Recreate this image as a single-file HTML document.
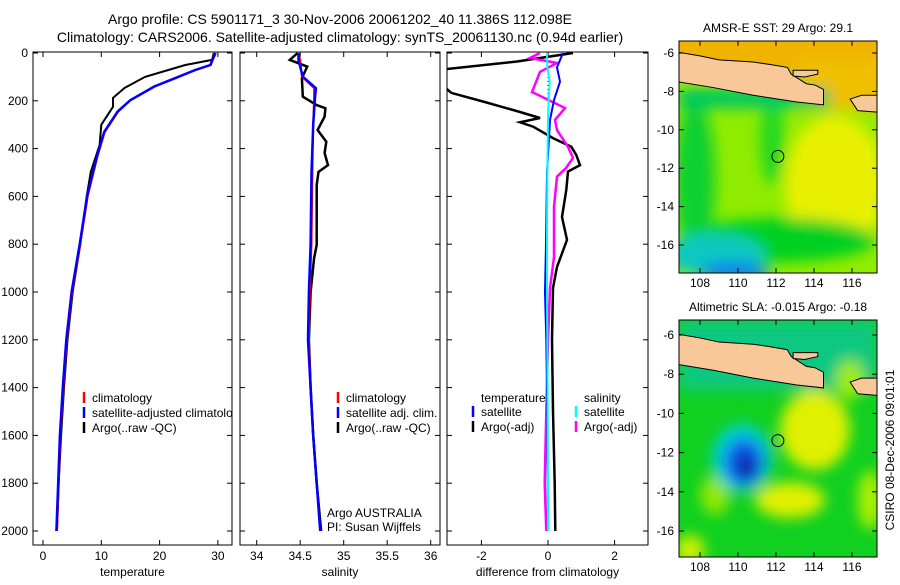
<!DOCTYPE html>
<html><head><meta charset="utf-8">
<style>
body{margin:0;background:#fff;}
svg text{font-family:"Liberation Sans",sans-serif;font-size:12px;fill:#000;}
</style></head>
<body>
<svg id="fig" width="900" height="580" xmlns="http://www.w3.org/2000/svg">
<defs>
<filter id="blur" x="-20%" y="-20%" width="140%" height="140%"><feGaussianBlur stdDeviation="7"/></filter>
<clipPath id="c1"><rect x="33" y="52" width="199" height="493"/></clipPath>
<clipPath id="c2"><rect x="240" y="52" width="200" height="493"/></clipPath>
<clipPath id="c3"><rect x="447" y="52" width="201" height="493"/></clipPath>
<clipPath id="m1"><rect x="679" y="41" width="198" height="232"/></clipPath>
<clipPath id="m2"><rect x="679" y="320" width="198" height="237"/></clipPath>
</defs>
<text x="340" y="24" text-anchor="middle" style="font-size:14px">Argo profile: CS 5901171_3 30-Nov-2006 20061202_40 11.386S 112.098E</text>
<text x="340" y="42" text-anchor="middle" style="font-size:14px">Climatology: CARS2006. Satellite-adjusted climatology: synTS_20061130.nc (0.94d earlier)</text>

<g id="panels"></g>

<!-- SST map -->
<g clip-path="url(#m1)">
<rect x="679" y="41" width="198" height="232" fill="#90ec00"/>
<g filter="url(#blur)">
<rect x="640" y="20" width="260" height="55" fill="#f0b400"/>
<rect x="800" y="60" width="90" height="50" fill="#f0c000"/>
<ellipse cx="835" cy="185" rx="50" ry="70" fill="#e8f000"/>
<ellipse cx="695" cy="180" rx="20" ry="80" fill="#10d030"/>
<ellipse cx="772" cy="140" rx="12" ry="45" fill="#20d820"/>
<ellipse cx="780" cy="240" rx="95" ry="22" fill="#00d020"/>
<ellipse cx="715" cy="255" rx="50" ry="22" fill="#10c8c0"/>
<ellipse cx="735" cy="272" rx="35" ry="10" fill="#1080f0"/>
<rect x="679" y="88" width="150" height="20" fill="#00c860"/>
</g>
</g>
<!-- SLA map -->
<g clip-path="url(#m2)">
<rect x="679" y="320" width="198" height="237" fill="#10d020"/>
<g filter="url(#blur)">
<rect x="679" y="320" width="198" height="70" fill="#10c880"/>
<ellipse cx="815" cy="430" rx="35" ry="40" fill="#e0f000"/>
<ellipse cx="790" cy="500" rx="35" ry="18" fill="#e0f000"/>
<ellipse cx="715" cy="495" rx="15" ry="20" fill="#90e800"/>
<ellipse cx="690" cy="550" rx="15" ry="15" fill="#d0f000"/>
<ellipse cx="870" cy="500" rx="12" ry="30" fill="#b0f000"/>
<ellipse cx="850" cy="380" rx="14" ry="20" fill="#a0ec00"/>
<ellipse cx="742" cy="458" rx="30" ry="34" fill="#00d0d0"/>
<ellipse cx="744" cy="462" rx="20" ry="24" fill="#1060f0"/>
<ellipse cx="746" cy="466" rx="10" ry="13" fill="#0828a0"/>
</g>
</g>
<g id="maps-fg"></g>
<text transform="translate(894,450) rotate(-90)" text-anchor="middle">CSIRO 08-Dec-2006 09:01:01</text>
</svg>
<script>
// ---- data ----
const tempDepth = [0,29,50,71,100,146,188,225,300,385,497,600,800,1000,1200,1400,1600,1800,2000];
const tempArgo  = [29.3,29,24.4,21.5,17.5,14,12,12,10,9.7,8.2,7.5,6.4,5.1,4.2,3.6,3.1,2.7,2.4];
const tempClimDepth = [0,50,71,106,140,197,245,330,428,595,800,1000,1200,1400,1600,1800,2000];
const tempClim = [29.5,28.8,26.2,22.5,19,15,12.9,10.6,9.4,7.7,6.4,5,4.1,3.5,3,2.7,2.4];
const tempSat  = [29.6,28.7,26.1,22.6,19.1,15,12.8,10.5,9.3,7.6,6.3,4.9,4.0,3.4,2.9,2.6,2.3];
const salDepth = [0,29,57,105,183,218,231,266,322,371,419,469,497,552,803,858,1000,1200,1400,1600,1800,2000];
const salArgo  = [34.47,34.38,34.58,34.52,34.53,34.69,34.79,34.78,34.7,34.8,34.78,34.82,34.71,34.69,34.69,34.66,34.62,34.6,34.62,34.65,34.69,34.74];
const salClimDepth = [0,30,99,147,188,300,500,800,1000,1200,1400,1600,1800,2000];
const salClim = [34.48,34.5,34.52,34.66,34.66,34.65,34.64,34.63,34.61,34.6,34.62,34.65,34.69,34.73];
const salSat  = [34.48,34.48,34.53,34.68,34.67,34.65,34.63,34.62,34.6,34.59,34.62,34.65,34.69,34.73];
const dTDepth = [0,21,35,71,120,167,205,247,272,290,308,356,392,427,469,496,573,686,782,895,983,1200,1500,1800,2000];
const dTArgo  = [0.75,-0.24,-0.9,-3.3,-3.3,-2.9,-1.9,-0.84,-0.24,-0.84,-0.45,0.15,0.7,0.85,0.96,0.6,0.55,0.42,0.57,0.27,0.15,0.12,0.15,0.2,0.22];
const dSDepth = [0,21,42,79,163,230,280,322,393,439,481,517,643,854,983,1200,1500,1800,2000];
const dSArgo  = [-0.24,-0.54,0.27,-0.24,-0.48,0.51,0.21,0.27,0.6,0.75,0.54,0.27,0.18,0.18,0.06,0,-0.05,-0.1,-0.05];
const dSatDepth = [0,60,120,197,280,500,800,1000,1200,1500,2000];
const dTSat = [0.45,0.27,0.36,0.18,0.06,-0.03,-0.06,-0.09,-0.05,-0.02,0];
const dSSat = [-0.03,-0.02,0.05,0.02,0,-0.02,-0.03,-0.03,-0.02,-0.01,0];
const depthTicks = [0,200,400,600,800,1000,1200,1400,1600,1800,2000];
const tempTicks = [0,10,20,30];
const salTicks = [34,34.5,35,35.5,36];
const diffTicks = [-2,0,2];
const latTicks = [-6,-8,-10,-12,-14,-16];
const lonTicks = [108,110,112,114,116];

// ---- scales ----
const yD = d => 53 + d*0.239;
const xT = t => 43 + t*5.83;
const xS = s => 256.7 + (s-34)*87;
const xDf = v => 548 + v*33.3;
const NS='http://www.w3.org/2000/svg';
function mk(tag, attrs, parent){const e=document.createElementNS(NS,tag);for(const k in attrs)e.setAttribute(k,attrs[k]);parent.appendChild(e);return e;}
const G=document.getElementById('panels');
function line(depths, vals, xf, color, w, clip, name, dash){
  const pts=depths.map((d,i)=>xf(vals[i]).toFixed(1)+','+yD(d).toFixed(1)).join(' ');
  const p=mk('polyline',{points:pts,fill:'none',stroke:color,'stroke-width':w,'clip-path':'url(#'+clip+')'},G);
  if(dash)p.setAttribute('stroke-dasharray',dash);
  
  
}
function frame(x,w,xt,xf,xlab,name,showDepth){
  const r=mk('rect',{x:x,y:52,width:w,height:493,fill:'none',stroke:'#000','stroke-width':1},G);
  
  
  depthTicks.forEach(d=>{
    mk('line',{x1:x,x2:x+5,y1:yD(d),y2:yD(d),stroke:'#000'},G);
    mk('line',{x1:x+w-5,x2:x+w,y1:yD(d),y2:yD(d),stroke:'#000'},G);
    if(showDepth){
      const t=mk('text',{x:x-5,y:yD(d)+4,'text-anchor':'end'},G);t.textContent=d;
      
      
    }
  });
  xt.forEach(v=>{
    const X=xf(v);
    mk('line',{x1:X,x2:X,y1:52,y2:57,stroke:'#000'},G);
    mk('line',{x1:X,x2:X,y1:540,y2:545,stroke:'#000'},G);
    const t=mk('text',{x:X,y:560,'text-anchor':'middle'},G);t.textContent=v;
    
    
  });
  const t=mk('text',{x:x+w/2,y:576,'text-anchor':'middle'},G);t.textContent=xlab;
  
  
}
frame(33,199,tempTicks,xT,'temperature','temperature-panel',true);
frame(240,200,salTicks,xS,'salinity','salinity-panel',false);
frame(447,201,diffTicks,xDf,'difference from climatology','difference-panel',false);

line(tempDepth,tempArgo,xT,'#000',2,'c1','temp-argo-line');
line(tempClimDepth,tempClim,xT,'#f00',2,'c1','temp-climatology-line');
line(tempClimDepth,tempSat,xT,'#00f',2.5,'c1','temp-satellite-line');
line(salDepth,salArgo,xS,'#000',2.5,'c2','sal-argo-line');
line(salClimDepth,salClim,xS,'#f00',2,'c2','sal-climatology-line');
line(salClimDepth,salSat,xS,'#00f',2.5,'c2','sal-satellite-line');
line([100,250],[0,0],xDf,'#000',1,'c3','zero-dotted-line','1 3');
line(dTDepth,dTArgo,xDf,'#000',2.5,'c3','diff-temp-argo-line');
line(dSDepth,dSArgo,xDf,'#f0f',2.5,'c3','diff-sal-argo-line');
line(dSatDepth,dTSat,xDf,'#00f',2,'c3','diff-temp-satellite-line');
line(dSatDepth,dSSat,xDf,'#0ff',2,'c3','diff-sal-satellite-line');

function legend(x,y,color,txt,clip,name){
  if(color){const l=mk('line',{x1:x,x2:x,y1:y-10,y2:y+1,stroke:color,'stroke-width':2.5},G);
    
    }
  const t=mk('text',{x:x+(color?8:0),y:y},G);t.textContent=txt;
  if(clip)t.setAttribute('clip-path','url(#'+clip+')');
  
  
}
legend(84,402,'#f00','climatology','c1','legend-climatology');
legend(84,417,'#00f','satellite-adjusted climatology','c1','legend-satellite-adjusted');
legend(84,432,'#000','Argo(..raw -QC)','c1','legend-argo-raw');
legend(338,402,'#f00','climatology','c2','legend-sal-climatology');
legend(338,417,'#00f','satellite adj. clim.','c2','legend-sal-satellite');
legend(338,432,'#000','Argo(..raw -QC)','c2','legend-sal-argo');
legend(327,517,null,'Argo AUSTRALIA','c2','argo-australia-label');
legend(327,531,null,'PI: Susan Wijffels','c2','pi-label');
legend(481,402,null,'temperature','c3','legend-temperature-heading');
legend(584,402,null,'salinity','c3','legend-salinity-heading');
legend(473,416,'#00f','satellite','c3','legend-temp-satellite');
legend(473,431,'#000','Argo(-adj)','c3','legend-temp-argo');
legend(576,416,'#0ff','satellite','c3','legend-sal-satellite-diff');
legend(576,431,'#f0f','Argo(-adj)','c3','legend-sal-argo-diff');

// maps foreground
const M=document.getElementById('maps-fg');
function mapFg(top,h,lat0y,latScale,title,name,clipId){
  const g=mk('g',{},M);
  
  
  const yL=l=>lat0y+(-6-l)*latScale;
  const xL=l=>700+(l-108)*19;
  const lg=mk('g',{'clip-path':'url(#'+clipId+')'},g);
  const java=[[106.5,-5.9],[108,-6.15],[109,-6.36],[110.8,-6.47],[111.7,-6.6],[112.6,-6.75],[112.8,-7.1],[113.6,-7.6],[114.05,-7.67],[114.5,-7.9],[114.5,-8.7],[113.1,-8.55],[110.8,-8.2],[108.7,-7.8],[106.5,-7.45]];
  mk('polygon',{points:java.map(q=>xL(q[0])+','+yL(q[1])).join(' '),fill:'#f8c898',stroke:'#000','stroke-width':1},lg);
  const mad=[[112.9,-6.9],[114.2,-6.9],[114.2,-7.1],[113.5,-7.25],[112.9,-7.2]];
  mk('polygon',{points:mad.map(q=>xL(q[0])+','+yL(q[1])).join(' '),fill:'#f8c898',stroke:'#000'},lg);
  const bali=[[115.9,-8.4],[116.5,-8.2],[117.6,-8.2],[117.6,-9.1],[116.3,-9.0]];
  mk('polygon',{points:bali.map(q=>xL(q[0])+','+yL(q[1])).join(' '),fill:'#f8c898',stroke:'#000'},lg);
  mk('rect',{x:679,y:top,width:198,height:h,fill:'none',stroke:'#000'},g);
  latTicks.forEach(l=>{mk('line',{x1:679,x2:684,y1:yL(l),y2:yL(l),stroke:'#000'},g);
    mk('line',{x1:872,x2:877,y1:yL(l),y2:yL(l),stroke:'#000'},g);
    const t=mk('text',{x:674,y:yL(l)+4,'text-anchor':'end'},g);t.textContent=l;
    
    });
  lonTicks.forEach(l=>{mk('line',{x1:xL(l),x2:xL(l),y1:top,y2:top+5,stroke:'#000'},g);
    mk('line',{x1:xL(l),x2:xL(l),y1:top+h-5,y2:top+h,stroke:'#000'},g);
    const t=mk('text',{x:xL(l),y:top+h+14,'text-anchor':'middle'},g);t.textContent=l;
    
    });
  const c=mk('circle',{cx:xL(112.098),cy:yL(-11.386),r:6,fill:'none',stroke:'#000'},g);
  
  
  const t=mk('text',{x:778,y:top-9,'text-anchor':'middle'},g);t.textContent=title;
  
  
}
mapFg(41,232,53,19.2,'AMSR-E SST: 29 Argo: 29.1','sst-map','m1');
mapFg(320,237,335,19.6,'Altimetric SLA: -0.015 Argo: -0.18','sla-map','m2');
</script>
</body></html>
